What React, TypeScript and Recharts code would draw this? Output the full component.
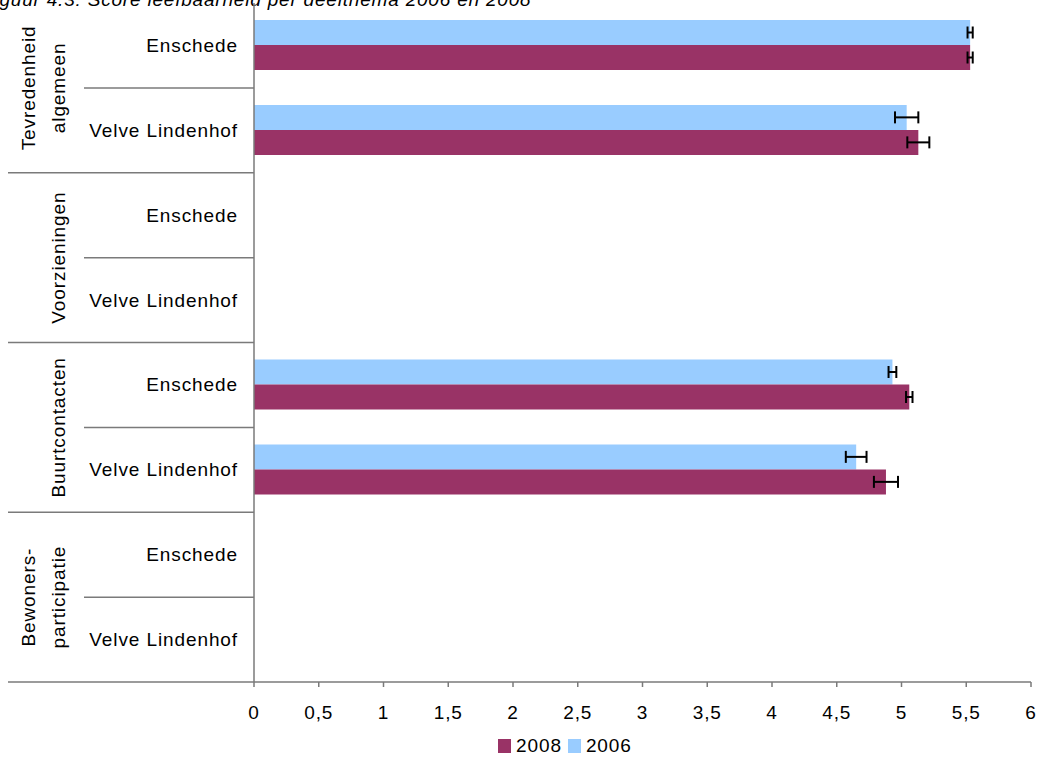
import { Bar, BarChart, ErrorBar, XAxis, YAxis } from 'recharts'

const subLabels = [
  'Enschede', 'Velve Lindenhof',
  'Enschede', 'Velve Lindenhof',
  'Enschede', 'Velve Lindenhof',
  'Enschede', 'Velve Lindenhof',
]
const groupLabels = ['Tevredenheid\nalgemeen', 'Voorzieningen', 'Buurtcontacten', 'Bewoners-\nparticipatie']

const values2006 = [5.53, 5.04, null, null, 4.93, 4.65, null, null]
const errors2006 = [0.02, 0.09, null, null, 0.03, 0.08, null, null]
const values2008 = [5.53, 5.13, null, null, 5.06, 4.88, null, null]
const errors2008 = [0.02, 0.085, null, null, 0.025, 0.093, null, null]

const xTicks = [0, 0.5, 1, 1.5, 2, 2.5, 3, 3.5, 4, 4.5, 5, 5.5, 6]

const data = subLabels.map((sub, i) => ({
  key: `c${i}`,
  sub,
  v2006: values2006[i],
  e2006: errors2006[i],
  v2008: values2008[i],
  e2008: errors2008[i],
}))

const W = 1039
const H = 758
const MARGIN = { top: 3, right: 8, bottom: 36, left: 0 }
const AXIS_W = 254
const XAXIS_H = 40
const LINE = '#7a7a7a'
const FONT = { fontSize: 19, letterSpacing: 0.9, fill: '#000' }

function CategoryTick(props: any) {
  const { y, payload } = props
  const index = payload?.index ?? props.index ?? 0
  const band = (H - MARGIN.top - MARGIN.bottom - XAXIS_H) / subLabels.length
  const half = payload?.offset || band / 2
  const isGroupEnd = index % 2 === 1
  const group = Math.floor(index / 2)
  const lines = groupLabels[group].split('\n')
  const gy = y - half
  const lineX = lines.length === 2 ? [28, 58] : [58]

  return (
    <g>
      <text x={AXIS_W - 16} y={y} textAnchor="end" dominantBaseline="central" {...FONT}>
        {subLabels[index]}
      </text>
      <line
        x1={isGroupEnd ? 8 : 84}
        x2={AXIS_W}
        y1={y + half}
        y2={y + half}
        stroke={LINE}
        strokeWidth={1.5}
      />
      {isGroupEnd &&
        lines.map((t, k) => (
          <text
            key={k}
            x={lineX[k]}
            y={gy}
            transform={`rotate(-90 ${lineX[k]} ${gy})`}
            textAnchor="middle"
            dominantBaseline="central"
            {...FONT}
          >
            {t}
          </text>
        ))}
    </g>
  )
}

export default function App() {
  return (
    <div
      style={{
        position: 'relative',
        width: W,
        height: H,
        overflow: 'hidden',
        background: '#fff',
        fontFamily: '"Liberation Sans", Arial, sans-serif',
      }}
    >
      <style>{'body { margin: 0; }'}</style>
      <div
        style={{
          position: 'absolute',
          left: -18,
          top: -10,
          fontSize: 19,
          lineHeight: '19px',
          fontStyle: 'italic',
          letterSpacing: 0.8,
          whiteSpace: 'nowrap',
        }}
      >
        Figuur 4.3: Score leefbaarheid per deelthema 2006 en 2008
      </div>
      <BarChart
        width={W}
        height={H}
        data={data}
        layout="vertical"
        margin={MARGIN}
        barSize={25}
        barGap={0}
      >
        <XAxis
          type="number"
          domain={[0, 6]}
          ticks={xTicks}
          interval={0}
          height={XAXIS_H}
          tickFormatter={(v: number) => String(v).replace('.', ',')}
          tick={FONT}
          tickSize={5}
          tickMargin={19}
          axisLine={{ stroke: LINE, strokeWidth: 1.5 }}
          tickLine={{ stroke: LINE, strokeWidth: 1.5 }}
        />
        <YAxis
          type="category"
          dataKey="key"
          width={AXIS_W}
          interval={0}
          tick={<CategoryTick />}
          tickLine={false}
          axisLine={{ stroke: LINE, strokeWidth: 1.5 }}
        />
        <Bar dataKey="v2006" fill="#99CCFF" isAnimationActive={false}>
          <ErrorBar dataKey="e2006" direction="x" width={6} stroke="#000" strokeWidth={2} />
        </Bar>
        <Bar dataKey="v2008" fill="#993366" isAnimationActive={false}>
          <ErrorBar dataKey="e2008" direction="x" width={6} stroke="#000" strokeWidth={2} />
        </Bar>
      </BarChart>
      <div
        style={{
          position: 'absolute',
          left: 498,
          top: 736,
          display: 'flex',
          alignItems: 'center',
          fontSize: 19,
          letterSpacing: 0.9,
          lineHeight: '19px',
        }}
      >
        <span style={{ width: 13, height: 14, background: '#993366', marginRight: 5 }} />
        <span style={{ marginRight: 6 }}>2008</span>
        <span style={{ width: 13, height: 14, background: '#99CCFF', marginRight: 5 }} />
        <span>2006</span>
      </div>
    </div>
  )
}
